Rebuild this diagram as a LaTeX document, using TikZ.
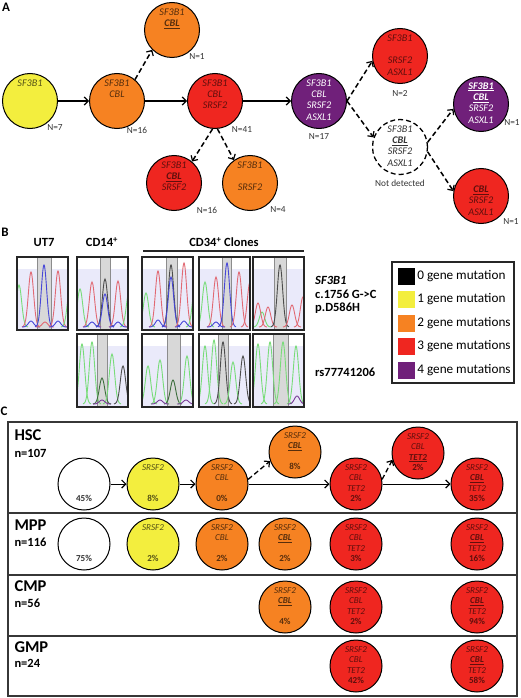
\documentclass[tikz,border=0pt]{standalone}
\usepackage{fontspec}
\setmainfont{Carlito}
\usetikzlibrary{calc, arrows.meta}

\definecolor{cyel}{RGB}{243,238,62}
\definecolor{corg}{RGB}{246,130,34}
\definecolor{cred}{RGB}{239,38,32}
\definecolor{cpur}{RGB}{112,32,122}
\definecolor{clav}{RGB}{234,234,250}
\definecolor{cband}{RGB}{216,216,216}
\definecolor{cgrn}{RGB}{120,220,120}
\definecolor{cblu}{RGB}{70,70,215}
\definecolor{cpnk}{RGB}{225,105,115}
\definecolor{cvio}{RGB}{120,60,150}
\definecolor{cframe}{RGB}{55,55,55}

\newcommand{\four}[4]{\strut#1\\\strut#2\\\strut#3\\\strut#4}
\newcommand{\ugene}[1]{\underline{\textbf{#1}}}
\newcommand{\pct}[1]{\textbf{\upshape#1\%}}
% one chromatogram: x, y, band left, band right, peaks x/height/colour
\newcommand{\chrom}[5]{%
  \begin{scope}
    \clip (#1,#2) rectangle ++(51,73);
    \fill[clav] (#1,#2+12) rectangle ++(51,61);
    \fill[cband] (#3,#2) rectangle (#4,#2+73);
    \draw[black!45, line width=0.6pt] (#3,#2) -- (#3,#2+73) (#4,#2) -- (#4,#2+73);
    \foreach \px/\ph/\pc in {#5}{
      \draw[color=\pc, line width=0.9pt] plot[domain=-9:9, samples=25, smooth]
        ({\px+\x}, {#2+70-\ph*exp(-((\x)^2)/14)});
    }
  \end{scope}
  \draw[line width=1.3pt, black!85] (#1,#2) rectangle ++(51,73);
}

\tikzset{
  gene/.style={circle, draw, line width=1pt, minimum size=55pt, inner sep=0pt, align=center,
    font=\fontsize{10.2}{11.4}\selectfont\itshape},
  genec/.style={gene, minimum size=52pt, font=\fontsize{9.1}{10.4}\selectfont\itshape},
  ylw/.style={fill=cyel, text=cyel!35!black},
  org/.style={fill=corg, text=corg!35!black},
  rd/.style={fill=cred, text=cred!40!black},
  pur/.style={fill=cpur, text=white},
  wht/.style={fill=white, text=black!80},
  nlab/.style={font=\fontsize{9.3}{11}\selectfont, text=black!80},
  panel/.style={font=\fontsize{13}{15}\selectfont\bfseries},
  head/.style={font=\fontsize{12.5}{14}\selectfont\bfseries},
  legtxt/.style={font=\fontsize{13.2}{15}\selectfont, anchor=west, inner sep=1pt},
  swatch/.style={minimum size=17pt, inner sep=0pt},
  rowbox/.style={draw=cframe, line width=1.4pt},
  arr/.style={line width=1.2pt, -{Straight Barb[length=4pt, width=8pt, line width=1.2pt]}},
  darr/.style={arr, dash pattern=on 5pt off 3pt, line width=1.5pt},
  arrc/.style={arr, line width=1pt},
  darrc/.style={darr, line width=1.3pt}
}

\begin{document}
\begin{tikzpicture}[x=1pt, y=-1pt]
  \useasboundingbox (0,0) rectangle (520,698);

% panel A
  \draw (6,7) node[panel] (la) {A};
  \draw (30,101) node[gene, ylw] (a1) {\four{SF3B1}{}{}{}};
  \draw ($(a1) + (87,0)$) node[gene, org] (a2) {\four{SF3B1}{CBL}{}{}};
  \draw ($(a2) + (55,-71)$) node[gene, org] (a3) {\four{SF3B1}{\ugene{CBL}}{}{}};
  \draw ($(a2) + (98,0)$) node[gene, rd] (a4) {\four{SF3B1}{CBL}{SRSF2}{}};
  \draw ($(a4) + (-41,82)$) node[gene, rd] (a5) {\four{SF3B1}{\ugene{CBL}}{SRSF2}{}};
  \draw ($(a4) + (35,82)$) node[gene, org] (a6) {\four{SF3B1}{}{SRSF2}{}};
  \draw ($(a4) + (104,0)$) node[gene, pur] (a7) {\four{SF3B1}{CBL}{SRSF2}{ASXL1}};
  \draw ($(a7) + (81,-45)$) node[gene, rd] (a8) {\four{SF3B1}{}{SRSF2}{ASXL1}};
  \draw ($(a7) + (81,46)$) node[gene, wht, dash pattern=on 5pt off 3pt, line width=1.3pt] (a9) {\four{SF3B1}{\ugene{CBL}}{SRSF2}{ASXL1}};
  \draw ($(a9) + (81,-43)$) node[gene, pur] (a10) {\four{\ugene{SF3B1}}{\ugene{CBL}}{SRSF2}{ASXL1}};
  \draw ($(a9) + (81,49)$) node[gene, rd] (a11) {\four{}{\ugene{CBL}}{SRSF2}{ASXL1}};

  \draw ($(a1) + (25,27)$) node[nlab] (n1) {N=7};
  \draw ($(a2) + (20,29)$) node[nlab] (n2) {N=16};
  \draw ($(a3) + (25,27)$) node[nlab] (n3) {N=1};
  \draw ($(a4) + (27,29)$) node[nlab] (n4) {N=41};
  \draw ($(a5) + (33,27)$) node[nlab] (n5) {N=16};
  \draw ($(a6) + (28,27)$) node[nlab] (n6) {N=4};
  \draw ($(a7) + (0,36)$) node[nlab] (n7) {N=17};
  \draw ($(a8) + (0,37)$) node[nlab] (n8) {N=2};
  \draw ($(a9) + (0,36)$) node[nlab] (n9) {Not detected};
  \draw ($(a10) + (31,19)$) node[nlab] (n10) {N=1};
  \draw ($(a11) + (30,26)$) node[nlab] (n11) {N=1};

  \draw[arr] (a1) -- (a2);
  \draw[arr] (a2) -- (a4);
  \draw[arr] (a4) -- (a7);
  \draw[darr] (a2.50) -- (a3.225);
  \draw[darr] (a4.265) -- (a5.50);
  \draw[darr] (a4.275) -- (a6.125);
  \draw[darr] (a7.east) -- (a8.190);
  \draw[darr] (a7.east) -- (a9.160);
  \draw[darr] (a9.10) -- (a10.190);
  \draw[darr] (a9.350) -- (a11.170);

% panel B
  \draw (5,232) node[panel] (lb) {B};
  \draw (44,242) node[head] (hut) {UT7};
  \draw (102,242) node[head] (hcd) {CD14\textsuperscript{+}};
  \draw (224,242) node[head] (hcl) {CD34\textsuperscript{+} Clones};
  \draw[line width=1.2pt, black!85] (143,251) -- (304,251);

  \chrom{17}{257}{37}{51}{19/42/cgrn, 31/55/cpnk, 44/62/cblu, 58/56/cpnk, 70/40/cgrn, 31/6/cblu, 45/5/cpnk, 58/6/cblu}
  \chrom{77}{257}{100}{110}{80/38/cgrn, 92/45/cpnk, 105/48/black!70, 105/33/cblu, 118/46/cpnk, 129/35/cgrn, 92/5/cblu, 118/5/cblu}
  \chrom{142}{257}{166}{177}{146/34/cgrn, 158/56/cpnk, 171/62/black!70, 171/50/cblu, 184/64/cpnk, 195/40/cgrn, 158/7/cblu, 184/6/cblu}
  \chrom{199}{257}{222}{231}{205/45/cgrn, 216/50/cpnk, 227/64/cblu, 239/55/cpnk, 250/45/cpnk, 216/5/cblu}
  \chrom{253}{257}{274}{286}{262/15/cgrn, 258/24/cpnk, 268/20/cpnk, 280/62/black!70, 292/22/cpnk, 303/30/cpnk}
  \chrom{77}{334}{97}{107}{82/60/cgrn, 92/62/cgrn, 102/26/cgrn!50!black, 112/50/cgrn, 123/38/black!70, 102/4/cvio}
  \chrom{142}{334}{167}{180}{148/38/cgrn, 160/44/cgrn, 173/24/cgrn!50!black, 187/48/cgrn, 160/4/cvio, 186/4/cvio}
  \chrom{199}{334}{218}{228}{205/58/cgrn, 214/64/cgrn, 223/62/black!70, 233/42/cgrn, 243/48/black!70}
  \chrom{253}{334}{273}{288}{258/60/cgrn, 270/62/cgrn, 283/62/cgrn, 296/58/cgrn, 297/8/cvio}

  \draw (315,280) node[head, anchor=west, inner sep=0pt] (m1) {\itshape SF3B1};
  \draw (315,294) node[head, anchor=west, inner sep=0pt] (m2) {c.1756 G->C};
  \draw (315,308) node[head, anchor=west, inner sep=0pt] (m3) {p.D586H};
  \draw (315,372) node[head, anchor=west, inner sep=0pt] (m4) {rs77741206};

  \draw[line width=1.2pt, black!85] (392,262) rectangle (514,383);
  \foreach \i/\c/\t in {0/black/0 gene mutation, 1/cyel/1 gene mutation, 2/corg/2 gene mutations, 3/cred/3 gene mutations, 4/cpur/4 gene mutations}{
    \draw (406.5,276+23.5*\i) node[swatch, fill=\c] (k\i) {};
    \draw ($(k\i.east) + (1,0)$) node[legtxt] (t\i) {\t};
  }

% panel C
  \draw (4,411) node[panel] (lc) {C};
  \draw[rowbox] (8,422) rectangle (517,513);
  \draw[rowbox] (8,513) rectangle (517,575);
  \draw[rowbox] (8,575) rectangle (517,636);
  \draw[rowbox] (8,636) rectangle (517,696);
  \draw (11,435) node[anchor=west, font=\fontsize{16.5}{18}\selectfont\bfseries] (r1) {HSC};
  \draw (11,453) node[anchor=west, head] (s1) {n=107};
  \draw (11,525) node[anchor=west, font=\fontsize{16.5}{18}\selectfont\bfseries] (r2) {MPP};
  \draw (11,542) node[anchor=west, head] (s2) {n=116};
  \draw (11,586) node[anchor=west, font=\fontsize{16.5}{18}\selectfont\bfseries] (r3) {CMP};
  \draw (11,603) node[anchor=west, head] (s3) {n=56};
  \draw (11,647) node[anchor=west, font=\fontsize{16.5}{18}\selectfont\bfseries] (r4) {GMP};
  \draw (11,663) node[anchor=west, head] (s4) {n=24};

% HSC
  \draw (84,484) node[genec, wht] (c1) {\four{}{}{}{\pct{45}}};
  \draw ($(c1) + (69,0)$) node[genec, ylw] (c2) {\four{SRSF2}{}{}{\pct{8}}};
  \draw ($(c2) + (69,0)$) node[genec, org] (c3) {\four{SRSF2}{CBL}{}{\pct{0}}};
  \draw ($(c3) + (73,-32)$) node[genec, org] (c4) {\four{SRSF2}{\ugene{CBL}}{}{\pct{8}}};
  \draw ($(c3) + (134,0)$) node[genec, rd] (c5) {\four{SRSF2}{CBL}{TET2}{\pct{2}}};
  \draw ($(c5) + (62,-31)$) node[genec, rd] (c6) {\four{SRSF2}{CBL}{\ugene{TET2}}{\pct{2}}};
  \draw ($(c5) + (121,0)$) node[genec, rd] (c7) {\four{SRSF2}{\ugene{CBL}}{TET2}{\pct{35}}};
  \draw[arrc] (c1) -- (c2);
  \draw[arrc] (c2) -- (c3);
  \draw[arrc] (c3) -- (c5);
  \draw[arrc] (c5) -- (c7);
  \draw[darrc] (c3.10) -- (c4.200);
  \draw[darrc] (c5.10) -- (c6.195);

% MPP
  \draw ($(c1) + (0,60)$) node[genec, wht] (m1) {\four{}{}{}{\pct{75}}};
  \draw ($(c2) + (0,60)$) node[genec, ylw] (m2) {\four{SRSF2}{}{}{\pct{2}}};
  \draw ($(c3) + (0,60)$) node[genec, org] (m3) {\four{SRSF2}{CBL}{}{\pct{2}}};
  \draw ($(m3) + (63,0)$) node[genec, org] (m4) {\four{SRSF2}{\ugene{CBL}}{}{\pct{2}}};
  \draw ($(c5) + (0,60)$) node[genec, rd] (m5) {\four{SRSF2}{CBL}{TET2}{\pct{3}}};
  \draw ($(c7) + (0,60)$) node[genec, rd] (m6) {\four{SRSF2}{\ugene{CBL}}{TET2}{\pct{16}}};

% CMP
  \draw ($(m4) + (0,63)$) node[genec, org] (p1) {\four{SRSF2}{\ugene{CBL}}{}{\pct{4}}};
  \draw ($(m5) + (0,63)$) node[genec, rd] (p2) {\four{SRSF2}{CBL}{TET2}{\pct{2}}};
  \draw ($(m6) + (0,63)$) node[genec, rd] (p3) {\four{SRSF2}{\ugene{CBL}}{TET2}{\pct{94}}};

% GMP
  \draw ($(p2) + (0,59)$) node[genec, rd] (g1) {\four{SRSF2}{CBL}{TET2}{\pct{42}}};
  \draw ($(p3) + (0,59)$) node[genec, rd] (g2) {\four{SRSF2}{\ugene{CBL}}{TET2}{\pct{58}}};
\end{tikzpicture}
\end{document}
